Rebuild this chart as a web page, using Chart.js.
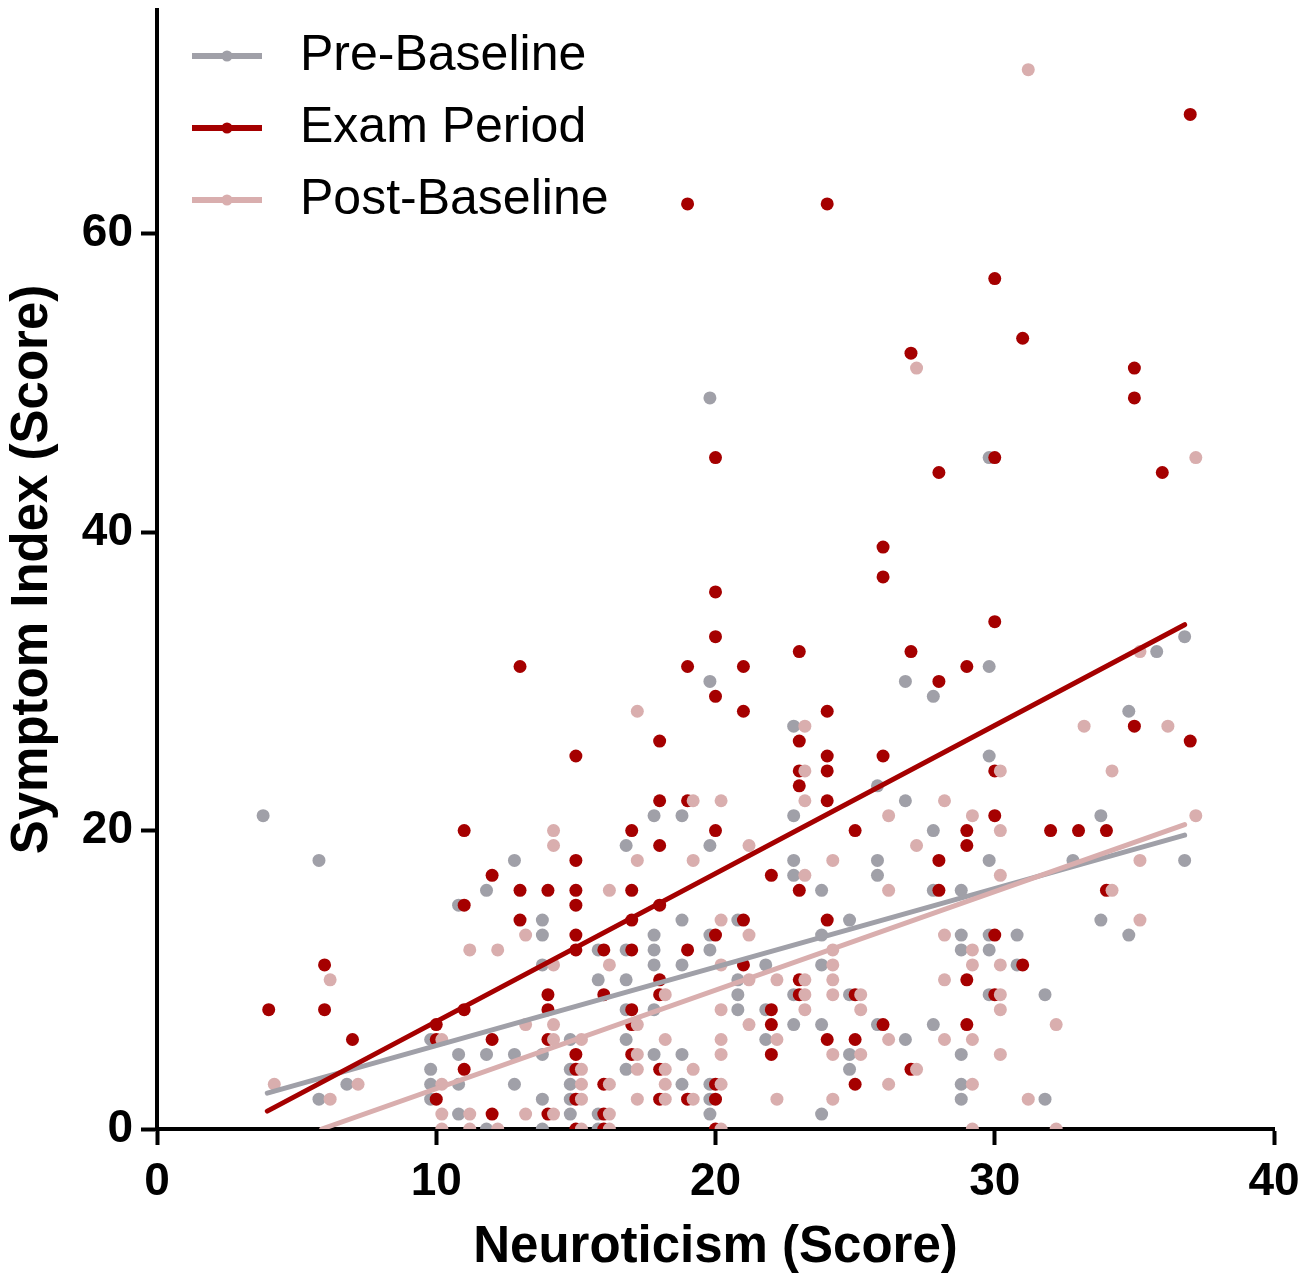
<!DOCTYPE html>
<html>
<head>
<meta charset="utf-8">
<title>Neuroticism vs Symptom Index</title>
<script src="https://cdn.jsdelivr.net/npm/chart.js@4.4.1/dist/chart.umd.min.js"></script>
<style>
  html, body { margin: 0; padding: 0; background: #fff; }
  #wrap { width: 1312px; height: 1276px; }
</style>
</head>
<body>
<div id="wrap"><canvas id="chart" width="1312" height="1276"></canvas></div>
<script>
const FONT = '"Liberation Sans", Arial, Helvetica, sans-serif';

const seriesNames = ["Pre-Baseline", "Exam Period", "Post-Baseline"];
const seriesColors = ["#A0A0A8", "#A50000", "#D9AEAE"];

// [neuroticism score, symptom index]
const preBaseline = [
  [4, 21], [6, 18], [6, 2], [7, 3],
  [10, 6], [10, 4], [10, 3], [10, 2],
  [11, 15], [11, 5], [11, 3], [11, 1],
  [12, 16], [12, 5], [12, 0],
  [13, 18], [13, 5], [13, 3],
  [14, 14], [14, 13], [14, 11], [14, 5], [14, 2], [14, 0],
  [15, 6], [15, 4], [15, 3], [15, 2], [15, 1],
  [16, 12], [16, 10], [16, 1], [16, 0],
  [17, 19], [17, 12], [17, 10], [17, 8], [17, 6], [17, 4],
  [18, 21], [18, 13], [18, 12], [18, 11], [18, 8], [18, 5],
  [19, 21], [19, 14], [19, 11], [19, 5], [19, 3],
  [20, 49], [20, 30], [20, 19], [20, 13], [20, 12], [20, 3], [20, 2], [20, 1],
  [21, 14], [21, 10], [21, 9], [21, 8],
  [22, 11], [22, 8], [22, 6],
  [23, 27], [23, 21], [23, 18], [23, 17], [23, 9], [23, 7],
  [24, 16], [24, 13], [24, 11], [24, 7], [24, 1],
  [25, 14], [25, 9], [25, 5], [25, 4],
  [26, 23], [26, 18], [26, 17], [26, 7],
  [27, 30], [27, 22], [27, 6],
  [28, 29], [28, 20], [28, 16], [28, 7],
  [29, 16], [29, 13], [29, 12], [29, 5], [29, 3], [29, 2],
  [30, 45], [30, 31], [30, 25], [30, 18], [30, 13], [30, 12], [30, 9],
  [31, 13], [31, 11], [32, 9], [32, 2], [33, 18],
  [34, 21], [34, 14], [35, 28], [35, 13], [36, 32], [37, 33], [37, 18]
];

const examPeriod = [
  [4, 8], [6, 11], [6, 8], [7, 6],
  [10, 7], [10, 6], [10, 2],
  [11, 20], [11, 15], [11, 8], [11, 4],
  [12, 17], [12, 6], [12, 1],
  [13, 31], [13, 16], [13, 14],
  [14, 16], [14, 9], [14, 8], [14, 6], [14, 1],
  [15, 25], [15, 18], [15, 16], [15, 15], [15, 13], [15, 12], [15, 5], [15, 4], [15, 2], [15, 0],
  [16, 12], [16, 9], [16, 3], [16, 1], [16, 0],
  [17, 20], [17, 16], [17, 14], [17, 12], [17, 8], [17, 7], [17, 5],
  [18, 26], [18, 22], [18, 19], [18, 15], [18, 10], [18, 9], [18, 4], [18, 2],
  [19, 62], [19, 31], [19, 22], [19, 12], [19, 2],
  [20, 45], [20, 36], [20, 33], [20, 29], [20, 20], [20, 13], [20, 3], [20, 2], [20, 0],
  [21, 31], [21, 28], [21, 14], [21, 11],
  [22, 17], [22, 8], [22, 7], [22, 5],
  [23, 32], [23, 26], [23, 24], [23, 23], [23, 16], [23, 10], [23, 9],
  [24, 62], [24, 28], [24, 25], [24, 24], [24, 22], [24, 14], [24, 6],
  [25, 20], [25, 9], [25, 6], [25, 3],
  [26, 39], [26, 37], [26, 25], [26, 7],
  [27, 52], [27, 32], [27, 4],
  [28, 44], [28, 30], [28, 18], [28, 16],
  [29, 31], [29, 20], [29, 19], [29, 10], [29, 7],
  [30, 57], [30, 45], [30, 34], [30, 24], [30, 21], [30, 13], [30, 9],
  [31, 53], [31, 11], [32, 20], [33, 20], [34, 20], [34, 16],
  [35, 51], [35, 49], [35, 27], [36, 44], [37, 68], [37, 26]
];

const postBaseline = [
  [4, 3], [6, 10], [6, 2], [7, 3],
  [10, 6], [10, 3], [10, 1], [10, 0],
  [11, 12], [11, 1], [11, 0],
  [12, 12], [12, 0],
  [13, 13], [13, 7], [13, 1],
  [14, 20], [14, 19], [14, 11], [14, 7], [14, 6], [14, 1],
  [15, 6], [15, 4], [15, 3], [15, 2], [15, 0],
  [16, 16], [16, 11], [16, 3], [16, 1], [16, 0],
  [17, 28], [17, 18], [17, 7], [17, 5], [17, 4], [17, 2],
  [18, 9], [18, 6], [18, 4], [18, 3], [18, 2],
  [19, 22], [19, 18], [19, 4], [19, 2],
  [20, 22], [20, 14], [20, 11], [20, 8], [20, 6], [20, 5], [20, 3], [20, 0],
  [21, 19], [21, 13], [21, 10], [21, 7],
  [22, 10], [22, 6], [22, 2],
  [23, 27], [23, 24], [23, 22], [23, 17], [23, 10], [23, 9], [23, 8],
  [24, 18], [24, 12], [24, 11], [24, 10], [24, 9], [24, 5], [24, 2],
  [25, 9], [25, 8], [25, 5],
  [26, 21], [26, 16], [26, 6], [26, 3],
  [27, 51], [27, 19], [27, 4],
  [28, 22], [28, 13], [28, 10], [28, 6],
  [29, 21], [29, 12], [29, 11], [29, 6], [29, 3], [29, 0],
  [30, 24], [30, 20], [30, 17], [30, 11], [30, 9], [30, 8], [30, 5],
  [31, 71], [31, 2], [32, 7], [32, 0], [33, 27], [34, 24], [34, 16],
  [35, 32], [35, 18], [35, 14], [36, 27], [37, 45], [37, 21]
];

// regression line end points as drawn
const fitX = [3.95, 36.8];
const preFit = [2.4, 19.7];
const examFit = [1.2, 33.8];
const postFitX = [5.9, 36.8];
const postFit = [0, 20.4];

// small sideways nudge so the three groups don't sit exactly on top of each other
const nudge = [-0.2, 0, 0.2];

function legendIcon(color) {
  const c = document.createElement("canvas");
  c.width = 70;
  c.height = 14;
  const g = c.getContext("2d");
  g.strokeStyle = color;
  g.lineWidth = 6;
  g.beginPath();
  g.moveTo(0, 7);
  g.lineTo(70, 7);
  g.stroke();
  g.fillStyle = color;
  g.beginPath();
  g.arc(35, 7, 5.5, 0, Math.PI * 2);
  g.fill();
  return c;
}
const legendIcons = seriesColors.map(legendIcon);

const pointSets = [preBaseline, examPeriod, postBaseline].map(function (pts, i) {
  return {
    label: seriesNames[i],
    data: pts.map(function (p) { return { x: p[0] + nudge[i], y: p[1] }; }),
    backgroundColor: seriesColors[i],
    borderWidth: 0,
    pointRadius: 6.5,
    order: 6 - i,
  };
});

function fitLine(xs, ys, i) {
  return {
    label: seriesNames[i] + " fit",
    data: xs.map(function (x, k) { return { x: x, y: ys[k] }; }),
    showLine: true,
    borderColor: seriesColors[i],
    borderWidth: 5,
    borderCapStyle: "round",
    pointRadius: 0,
    fill: false,
    order: 3 - i,
  };
}

const lineSets = [
  fitLine(fitX, preFit, 0),
  fitLine(fitX, examFit, 1),
  fitLine(postFitX, postFit, 2),
];

const tickFont = { family: FONT, size: 46, weight: "bold", lineHeight: 1.2 };
const titleFont = { family: FONT, size: 51, weight: "bold", lineHeight: 1 };

new Chart(document.getElementById("chart"), {
  type: "scatter",
  data: { datasets: pointSets.concat(lineSets) },
  options: {
    responsive: false,
    animation: false,
    events: [],
    layout: { padding: { top: 10, right: 38, left: 0, bottom: 0 } },
    plugins: {
      tooltip: { enabled: false },
      legend: {
        position: "chartArea",
        align: "start",
        // empty title only pushes the rows down a little
        title: { display: true, text: " ", font: { size: 9, lineHeight: 1 }, padding: 0 },
        labels: {
          usePointStyle: true,
          pointStyleWidth: 96,
          padding: 22,
          color: "#000",
          font: { family: FONT, size: 50 },
          filter: function (item) { return item.datasetIndex < 3; },
          sort: function (a, b) { return a.datasetIndex - b.datasetIndex; },
          generateLabels: function (chart) {
            const items = Chart.defaults.plugins.legend.labels.generateLabels(chart);
            items.forEach(function (item) {
              if (item.datasetIndex < 3) item.pointStyle = legendIcons[item.datasetIndex];
            });
            return items;
          },
        },
      },
    },
    scales: {
      x: {
        type: "linear",
        min: 0,
        max: 40,
        ticks: { stepSize: 10, color: "#000", font: tickFont, padding: 10, maxRotation: 0 },
        grid: { drawOnChartArea: false, drawTicks: true, tickLength: 16, tickWidth: 4, tickColor: "#000" },
        border: { display: true, color: "#000", width: 4 },
        title: {
          display: true,
          text: "Neuroticism (Score)",
          color: "#000",
          font: titleFont,
          padding: { top: 0, bottom: 3 },
        },
        afterFit: function (scale) { scale.height = 147; },
      },
      y: {
        type: "linear",
        min: 0,
        max: 75,
        ticks: { stepSize: 20, includeBounds: false, color: "#000", font: tickFont, padding: 8 },
        grid: { drawOnChartArea: false, drawTicks: true, tickLength: 16, tickWidth: 4, tickColor: "#000" },
        border: { display: true, color: "#000", width: 4 },
        title: {
          display: true,
          text: "Symptom Index (Score)",
          color: "#000",
          font: titleFont,
          padding: { top: 7, bottom: 0 },
        },
        afterFit: function (scale) {
          scale.width = 157;
          scale.paddingTop = 0;
          scale.paddingBottom = 0;
        },
      },
    },
  },
});
</script>
</body>
</html>
